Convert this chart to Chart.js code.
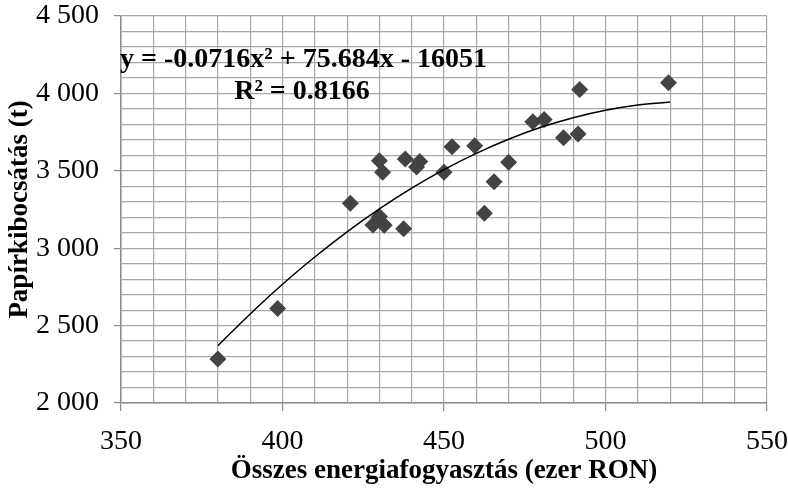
<!DOCTYPE html>
<html>
<head>
<meta charset="utf-8">
<script src="https://cdn.jsdelivr.net/npm/chart.js@4.4.0/dist/chart.umd.min.js"></script>
<style>
  body { margin: 0; background: #fff; }
  #wrap { width: 788px; height: 488px; }
</style>
</head>
<body>
<div id="wrap"><canvas id="chart" width="788" height="488"></canvas></div>
<script>
// energy use (thousand RON) vs paper emission (t)
const energy = [380, 398.5, 421, 428, 430, 431.5, 430, 431, 437.5, 438, 441.5, 442.5,
                450, 452.5, 459.5, 462.5, 465.5, 470, 477.5, 481, 487, 491.5, 492, 519.5];
const paper = [2284, 2610, 3290, 3150, 3205, 3148, 3565, 3490, 3125, 3576, 3525, 3560,
               3490, 3655, 3662, 3226, 3430, 3555, 3817, 3832, 3714, 3737, 4026, 4068];

// polynomial trendline as it reads off the picture
const trendX = [380, 390, 400, 410, 420, 430, 440, 450, 460, 470, 480, 490, 500, 510, 520];
const trendY = [2370, 2575, 2767, 2943, 3106, 3254, 3388, 3508, 3613, 3704, 3781, 3843, 3891, 3925, 3944];

const equationText = 'y = -0.0716x² + 75.684x - 16051';
const r2Text = 'R² = 0.8166';

const serif = '"Liberation Serif", "Times New Roman", serif';
const gridGray = '#a8a8a8';
const axisGray = '#8c8c8c';

function spaced(v) {
    return String(v).replace(/\B(?=(\d{3})+(?!\d))/g, ' ');
}

const points = energy.map((x, i) => ({ x: x, y: paper[i] }));
const trend = trendX.map((x, i) => ({ x: x, y: trendY[i] }));

const equationPlugin = {
    id: 'equation',
    afterDraw(chart) {
        const ctx = chart.ctx;
        const area = chart.chartArea;
        ctx.save();
        ctx.fillStyle = '#000';
        ctx.font = 'bold 28px ' + serif;
        ctx.textBaseline = 'alphabetic';
        ctx.textAlign = 'left';
        ctx.fillText(equationText, area.left - 1, 67);
        ctx.textAlign = 'center';
        ctx.fillText(r2Text, 302, 99);
        ctx.restore();
    }
};

new Chart(document.getElementById('chart'), {
    type: 'scatter',
    data: {
        datasets: [
            {
                data: points,
                pointStyle: 'rectRot',
                pointRadius: 8.5,
                pointHoverRadius: 8.5,
                backgroundColor: '#434343',
                borderColor: '#434343',
                borderWidth: 0,
                order: 1
            },
            {
                data: trend,
                showLine: true,
                pointRadius: 0,
                borderColor: '#000',
                borderWidth: 1.5,
                cubicInterpolationMode: 'monotone',
                fill: false,
                order: 0
            }
        ]
    },
    options: {
        responsive: false,
        animation: false,
        layout: { padding: 0 },
        plugins: {
            legend: { display: false },
            tooltip: { enabled: false }
        },
        scales: {
            x: {
                type: 'linear',
                min: 350,
                max: 550,
                afterFit: s => { s.height = 85; s.paddingRight = 21; },
                border: { color: axisGray, width: 1.5 },
                grid: {
                    color: gridGray,
                    lineWidth: 1.2,
                    tickLength: 8,
                    tickColor: c => (c.tick && c.tick.value % 50 === 0) ? axisGray : 'rgba(0,0,0,0)'
                },
                ticks: {
                    stepSize: 10,
                    maxTicksLimit: 100,
                    autoSkip: false,
                    maxRotation: 0,
                    padding: 14,
                    color: '#000',
                    font: { family: serif, size: 28 },
                    callback: v => v % 50 === 0 ? String(v) : ''
                },
                title: {
                    display: true,
                    text: 'Összes energiafogyasztás (ezer RON)',
                    color: '#000',
                    font: { family: serif, size: 27, weight: 'bold' },
                    padding: { top: 0, bottom: 1 }
                }
            },
            y: {
                type: 'linear',
                min: 2000,
                max: 4500,
                afterFit: s => { s.width = 121; s.paddingTop = 16; },
                border: { color: axisGray, width: 1.5 },
                grid: {
                    color: gridGray,
                    lineWidth: 1.2,
                    tickLength: 7,
                    tickColor: c => (c.tick && c.tick.value % 500 === 0) ? axisGray : 'rgba(0,0,0,0)'
                },
                ticks: {
                    stepSize: 100,
                    maxTicksLimit: 100,
                    autoSkip: false,
                    padding: 15,
                    color: '#000',
                    font: { family: serif, size: 28 },
                    callback: v => v % 500 === 0 ? spaced(v) : ''
                },
                title: {
                    display: true,
                    text: 'Papírkibocsátás (t)',
                    color: '#000',
                    font: { family: serif, size: 27, weight: 'bold' },
                    padding: { top: 4, bottom: 0 }
                }
            }
        }
    },
    plugins: [equationPlugin]
});
</script>
</body>
</html>
